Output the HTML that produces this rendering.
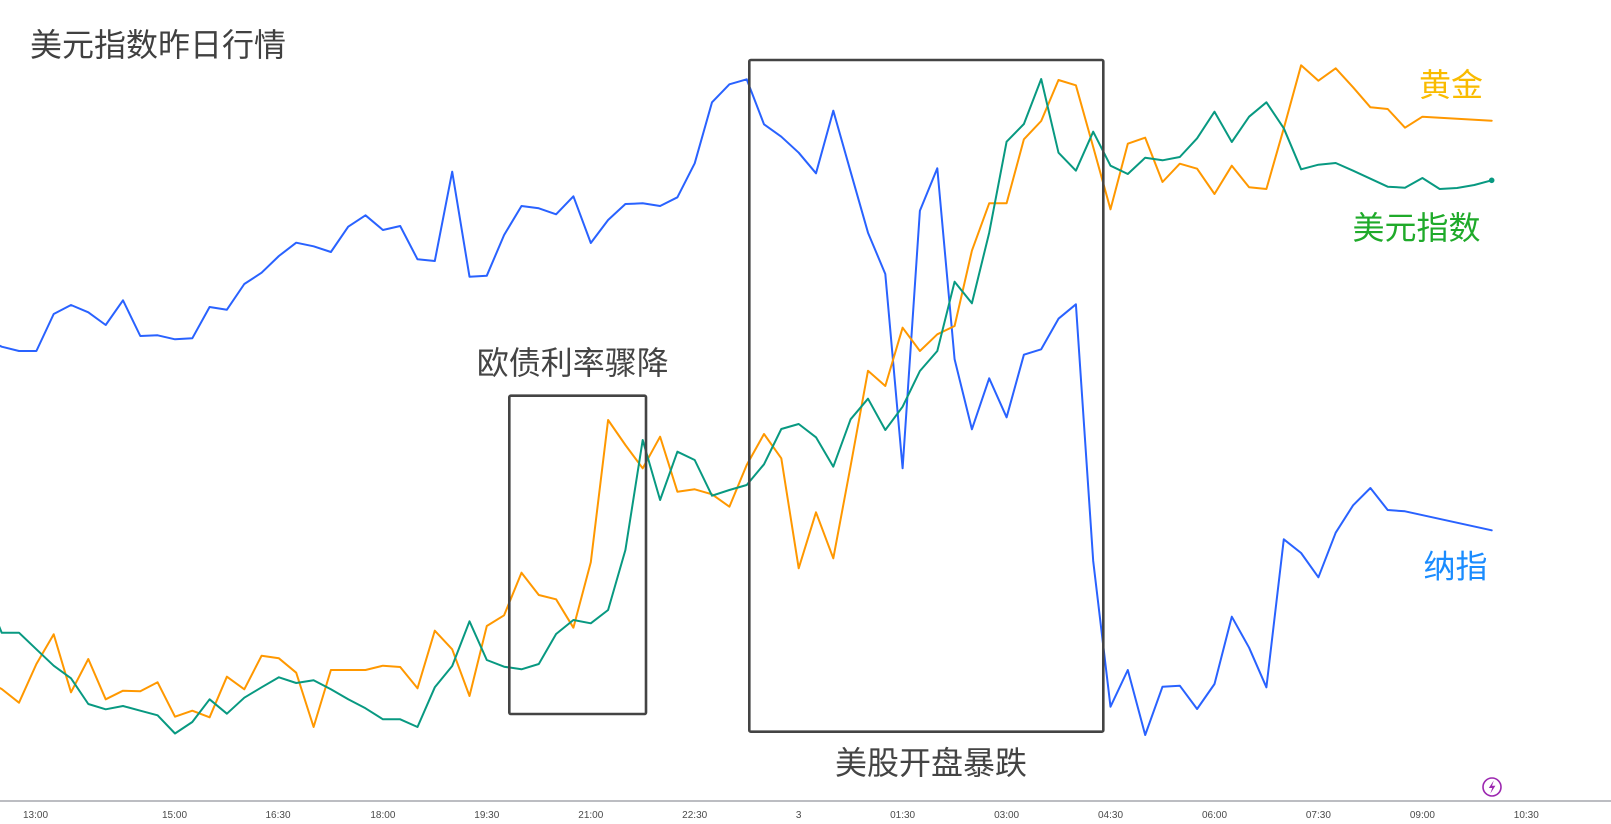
<!DOCTYPE html>
<html>
<head>
<meta charset="utf-8">
<style>
  html, body { margin: 0; padding: 0; background: #ffffff; }
  body { width: 1611px; height: 824px; overflow: hidden; }
  svg { display: block; }
  .cjk { font-family: "Liberation Sans", "Noto Sans CJK SC", "WenQuanYi Zen Hei", sans-serif; }
  .tick { font-family: "Liberation Sans", "DejaVu Sans", sans-serif; font-size: 10px; fill: #4a4a4a; }
</style>
</head>
<body>
<svg width="1611" height="824" viewBox="0 0 1611 824" xmlns="http://www.w3.org/2000/svg">
  <rect x="0" y="0" width="1611" height="824" fill="#ffffff"/>

  <!-- Title -->
  <text class="cjk" x="30" y="56" font-size="32" fill="#404040">美元指数昨日行情</text>

  <!-- Series: 纳指 (blue) -->
  <polyline fill="none" stroke="#2962ff" stroke-width="2" stroke-linejoin="round" stroke-linecap="round"
    points="-15.6,338 1.7,346.7 19,351 36.4,351 53.7,314 71,305 88.3,312.3 105.7,325 123,300.3 140.3,336 157.6,335.3 175,339.3 192.3,338.3 209.6,307 226.9,309.7 244.3,284 261.6,272.7 278.9,256 296.2,242.7 313.6,246.3 330.9,252 348.2,226.7 365.5,215.3 382.9,230 400.2,226 417.5,259.3 434.8,261 452.2,171.7 469.5,276.7 486.8,275.7 504.1,235 521.5,206 538.8,208.3 556.1,214.3 573.4,196.3 590.8,243 608.1,220 625.4,204 642.7,203.3 660.1,206 677.4,197.3 694.7,163.3 712,102.3 729.4,84.3 746.7,79.3 764,124.3 781.3,136.7 798.7,152.7 816,173.3 833.3,110.7 850.6,171.7 868,232.7 885.3,274 902.6,468.3 919.9,210.7 937.3,168.3 954.6,359.3 971.9,429.3 989.2,378.3 1006.6,417.3 1023.9,354.7 1041.2,349.3 1058.5,318.7 1075.9,304.3 1093.2,561 1110.5,706.7 1127.8,670 1145.2,735 1162.5,686.7 1179.8,685.7 1197.1,709 1214.5,684 1231.8,616.7 1249.1,647.7 1266.4,687.3 1283.8,539.3 1301.1,553 1318.4,577.3 1335.7,532.7 1353.1,505.3 1370.4,488 1387.7,510 1405,511.3 1491.7,530.3"/>

  <!-- Series: 黄金 (orange) -->
  <polyline fill="none" stroke="#ff9800" stroke-width="2" stroke-linejoin="round" stroke-linecap="round"
    points="-15.6,680 1.7,689 19,702.7 36.4,664 53.7,634.3 71,692.3 88.3,659 105.7,699.3 123,690.7 140.3,691.3 157.6,682.3 175,716.7 192.3,710.7 209.6,717.3 226.9,676.7 244.3,689.3 261.6,655.7 278.9,658.3 296.2,672.7 313.6,727 330.9,670 348.2,670 365.5,670 382.9,665.7 400.2,667 417.5,688.3 434.8,630.7 452.2,649.3 469.5,696 486.8,626 504.1,615.3 521.5,572.7 538.8,595 556.1,599.3 573.4,627.7 590.8,562.3 608.1,420 625.4,445 642.7,468.3 660.1,436.7 677.4,491.7 694.7,489.3 712,494.3 729.4,506.7 746.7,465 764,434 781.3,458.3 798.7,568.3 816,512.3 833.3,558.3 850.6,466 868,370.7 885.3,386 902.6,327.7 919.9,351 937.3,334.3 954.6,326 971.9,250.7 989.2,203.3 1006.6,203.3 1023.9,139.3 1041.2,121 1058.5,80 1075.9,85.3 1093.2,147 1110.5,209.3 1127.8,143.7 1145.2,137.7 1162.5,182 1179.8,163.7 1197.1,168.7 1214.5,194 1231.8,165.7 1249.1,187.3 1266.4,189 1283.8,128.3 1301.1,65.3 1318.4,80.7 1335.7,68.3 1353.1,87.3 1370.4,107.3 1387.7,109 1405,127.7 1422.4,116.7 1491.7,120.7"/>

  <!-- Series: 美元指数 (green) -->
  <polyline fill="none" stroke="#089981" stroke-width="2" stroke-linejoin="round" stroke-linecap="round"
    points="-15.6,590 1.7,632.7 19,632.7 36.4,649.3 53.7,665.7 71,678.3 88.3,704 105.7,709.3 123,706 140.3,710.7 157.6,715.3 175,733.5 192.3,722 209.6,699.3 226.9,713.7 244.3,697.7 261.6,687.3 278.9,677.3 296.2,683 313.6,680.3 330.9,689.3 348.2,699.3 365.5,708.3 382.9,719.3 400.2,719.3 417.5,727 434.8,687.3 452.2,666 469.5,621.3 486.8,660 504.1,666.7 521.5,669.3 538.8,664 556.1,634 573.4,620 590.8,623.3 608.1,610 625.4,550 642.7,440 660.1,500 677.4,451.7 694.7,460 712,495.7 729.4,490 746.7,485 764,464.3 781.3,429 798.7,424 816,437.3 833.3,466.7 850.6,419.3 868,398.7 885.3,430 902.6,406.7 919.9,371 937.3,351 954.6,281.7 971.9,303.3 989.2,232.7 1006.6,141.7 1023.9,124 1041.2,79 1058.5,152.7 1075.9,170.7 1093.2,131.7 1110.5,165.7 1127.8,174 1145.2,157.7 1162.5,160.3 1179.8,157 1197.1,138.3 1214.5,111.7 1231.8,142 1249.1,116.7 1266.4,102.3 1283.8,128.3 1301.1,169.3 1318.4,164.7 1335.7,163 1353.1,170.7 1370.4,178.7 1387.7,186.7 1405,187.7 1422.4,178 1439.7,189 1457,188 1474.3,185 1491.7,180.3"/>
  <circle cx="1491.7" cy="180.3" r="2.8" fill="#089981"/>

  <!-- Annotation boxes -->
  <rect x="509.3" y="395.7" width="136.7" height="318.3" rx="1.5" fill="none" stroke="#444444" stroke-width="2.6"/>
  <rect x="749.3" y="60" width="354" height="671.7" rx="1.5" fill="none" stroke="#444444" stroke-width="2.6"/>

  <!-- Annotation texts -->
  <text class="cjk" x="476.7" y="374" font-size="32" fill="#444444">欧债利率骤降</text>
  <text class="cjk" x="835" y="774" font-size="32" fill="#444444">美股开盘暴跌</text>

  <!-- Series labels -->
  <text class="cjk" x="1419" y="96" font-size="32" fill="#f9bb00">黄金</text>
  <text class="cjk" x="1352.5" y="239" font-size="32" fill="#1faa2a">美元指数</text>
  <text class="cjk" x="1423.5" y="577.5" font-size="32" fill="#1a8cff">纳指</text>

  <!-- Lightning icon -->
  <circle cx="1492" cy="787" r="9" fill="#ffffff" stroke="#9c27b0" stroke-width="1.6"/>
  <path d="M1493.8,780.5 L1488.8,788 L1492.2,788 L1490.4,793.5 L1495.4,785.8 L1492,785.8 Z" fill="#9c27b0"/>

  <!-- X axis -->
  <line x1="0" y1="801" x2="1611" y2="801" stroke="#787b86" stroke-width="1"/>
  <g class="tick" text-anchor="middle">
    <text x="35.5" y="818">13:00</text>
    <text x="174.5" y="818">15:00</text>
    <text x="278" y="818">16:30</text>
    <text x="382.9" y="818">18:00</text>
    <text x="486.8" y="818">19:30</text>
    <text x="590.8" y="818">21:00</text>
    <text x="694.7" y="818">22:30</text>
    <text x="798.7" y="818">3</text>
    <text x="902.6" y="818">01:30</text>
    <text x="1006.6" y="818">03:00</text>
    <text x="1110.5" y="818">04:30</text>
    <text x="1214.5" y="818">06:00</text>
    <text x="1318.4" y="818">07:30</text>
    <text x="1422.4" y="818">09:00</text>
    <text x="1526.3" y="818">10:30</text>
  </g>
</svg>
</body>
</html>
